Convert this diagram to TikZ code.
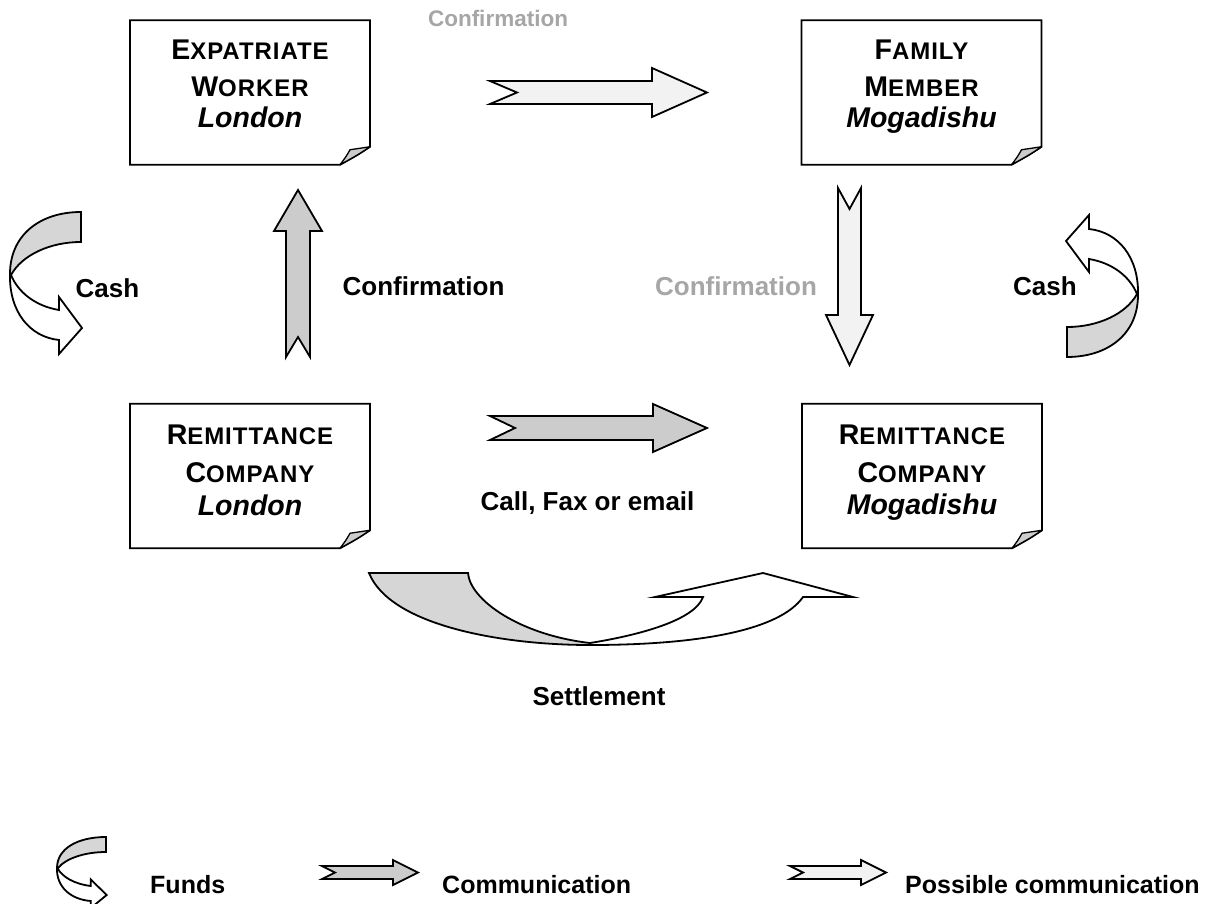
\documentclass[tikz,border=0pt]{standalone}
\usepackage{fontspec}
\setmainfont{Liberation Sans}
\newfontfamily\scfam[LetterSpace=4]{Liberation Sans}
\usetikzlibrary{calc}
\definecolor{arrdark}{RGB}{204,204,204}
\definecolor{arrlight}{RGB}{242,242,242}
\definecolor{bandgray}{RGB}{214,214,214}
\definecolor{foldgray}{RGB}{204,204,204}
\definecolor{labelgray}{RGB}{166,166,166}
\newcommand\boxfont{\fontsize{28.5}{34}\selectfont\bfseries}
\newcommand\lblfont{\fontsize{26}{30}\selectfont\bfseries}
\newcommand\toplblfont{\fontsize{22.5}{26}\selectfont\bfseries}
\newcommand\legfont{\fontsize{25}{30}\selectfont\bfseries}
\newcommand\smc[2]{#1{\scfam\bfseries\fontsize{24}{30}\selectfont #2}}
\tikzset{
  ln/.style={line width=1.8pt, line join=miter},
  boxln/.style={ln, fill=white},
  flap/.style={line width=1.3pt, fill=foldgray, line join=round},
  darkarr/.style={ln, fill=arrdark},
  lightarr/.style={ln, fill=arrlight},
  band/.style={ln, fill=bandgray},
  bandwhite/.style={ln, fill=white},
  paperbox/.style={draw=none, minimum width=240pt, minimum height=144.5pt, inner sep=0pt, outer sep=0pt},
  boxtxt/.style={anchor=base, inner sep=0pt, font=\boxfont},
  lbl/.style={anchor=base, inner sep=0pt, font=\lblfont},
  glbl/.style={lbl, text=labelgray},
  leg/.style={anchor=base west, inner sep=0pt, font=\legfont},
}
\newcommand\paper[3]{%
  \node[paperbox] (#1) at (#2,#3) {};
  \draw[boxln] (#1.north west) -- (#1.north east) -- ($(#1.south east)+(0,-18)$)
    .. controls ($(#1.south east)+(-12,-10)$) .. ($(#1.south east)+(-30,0)$) -- (#1.south west) -- cycle;
  \draw[flap] ($(#1.south east)+(-30,0)$) .. controls ($(#1.south east)+(-24,-8)$) .. ($(#1.south east)+(-20,-15)$)
    -- ($(#1.south east)+(0,-18)$) .. controls ($(#1.south east)+(-12,-10)$) .. ($(#1.south east)+(-30,0)$) -- cycle;
}
\newcommand\cashribbon{%
  \draw[bandwhite] (11,275) .. controls (18,292) and (35,306) .. (59,310) -- (59,297) -- (82,328) -- (59,354) -- (59,340)
    .. controls (30,337) and (9,312) .. (10,274) -- cycle;
  \draw[band] (81,212) .. controls (40,212) and (10,235) .. (10,274) -- (11,275)
    .. controls (22,255) and (50,242) .. (81,242) -- cycle;
}
\begin{document}
\begin{tikzpicture}[x=1pt,y=-1pt]
\useasboundingbox (0,0) rectangle (1209,904);

% boxes
\paper{ew}{250}{92.5}
\paper{fm}{921.5}{92.5}
\paper{rl}{250}{476}
\paper{rm}{922}{476}

\node[boxtxt] (ew1) at (250,60) {\smc{E}{XPATRIATE}};
\node[boxtxt] (ew2) at (250,97) {\smc{W}{ORKER}};
\node[boxtxt] (ew3) at (250,128) {\itshape London};

\node[boxtxt] (fm1) at (921.5,60) {\smc{F}{AMILY}};
\node[boxtxt] (fm2) at (921.5,97) {\smc{M}{EMBER}};
\node[boxtxt] (fm3) at (921.5,128) {\itshape Mogadishu};

\node[boxtxt] (rl1) at (250,444) {\smc{R}{EMITTANCE}};
\node[boxtxt] (rl2) at (250,482) {\smc{C}{OMPANY}};
\node[boxtxt] (rl3) at (250,515) {\itshape London};

\node[boxtxt] (rm1) at (922,444) {\smc{R}{EMITTANCE}};
\node[boxtxt] (rm2) at (922,482) {\smc{C}{OMPANY}};
\node[boxtxt] (rm3) at (922,514) {\itshape Mogadishu};

% block arrows
\draw[lightarr] (490,81) -- (652,81) -- (652,68) -- (707,92.5) -- (652,117) -- (652,104) -- (490,104) -- (517,92.5) -- cycle;
\draw[darkarr] (490,416) -- (653,416) -- (653,404) -- (707,428) -- (653,452) -- (653,440) -- (490,440) -- (515,428) -- cycle;
\draw[darkarr] (286,357) -- (286,231) -- (274,231) -- (298,190) -- (322,231) -- (310,231) -- (310,357) -- (298,337) -- cycle;
\draw[lightarr] (838,188) -- (838,315) -- (826,315) -- (849.5,365) -- (873,315) -- (861,315) -- (861,188) -- (849.5,209) -- cycle;

% cash ribbons
\cashribbon
\begin{scope}[shift={(1148,569)}, rotate=180]
\cashribbon
\end{scope}

% settlement
\draw[bandwhite] (590,643) .. controls (640,635) and (695,620) .. (703,597) -- (655,597) -- (763,573) -- (853,597) -- (803,597)
  .. controls (780,630) and (700,645) .. (590,645) -- cycle;
\draw[band] (369,573) -- (468,573) .. controls (470,600) and (520,635) .. (590,643) -- (590,645)
  .. controls (500,645) and (390,625) .. (369,573) -- cycle;

% labels
\node[glbl, font=\toplblfont] (c0) at (498,27) {Confirmation};
\node[lbl] (cashl) at (107.5,297) {Cash};
\node[lbl] (cashr) at (1045,295) {Cash};
\node[lbl] (c1) at (423.5,295) {Confirmation};
\node[glbl] (c2) at (736,295) {Confirmation};
\node[lbl] (cfe) at (587.5,510) {Call, Fax or email};
\node[lbl] (set) at (599,705) {Settlement};

% legend
\begin{scope}[shift={(50.1,731)}, xscale=0.69, yscale=0.5]
\cashribbon
\end{scope}
\draw[darkarr] (322,866) -- (393,866) -- (393,860) -- (418,872.5) -- (393,885) -- (393,879) -- (322,879) -- (335,872.5) -- cycle;
\draw[lightarr] (790,866) -- (861,866) -- (861,860) -- (886,872.5) -- (861,885) -- (861,879) -- (790,879) -- (803,872.5) -- cycle;
\node[leg] (lf) at (150,893) {Funds};
\node[leg] (lc) at (442,893) {Communication};
\node[leg] (lp) at (905,893) {Possible communication};
\end{tikzpicture}
\end{document}
